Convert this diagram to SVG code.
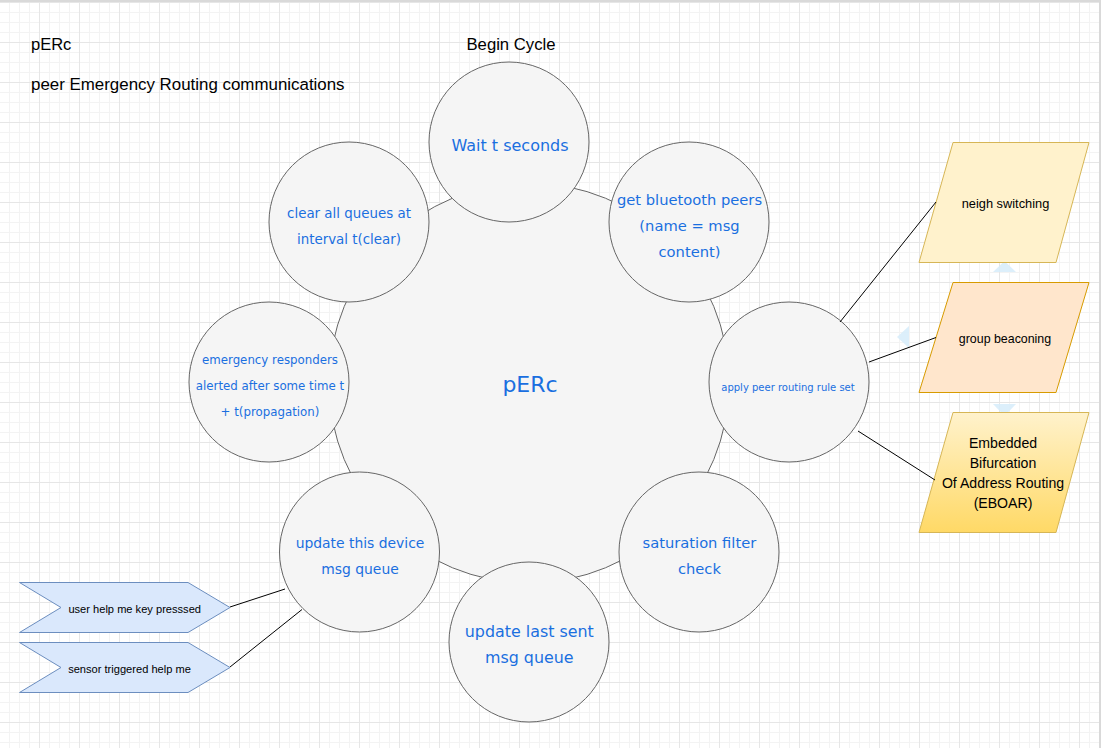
<svg xmlns="http://www.w3.org/2000/svg" width="1101" height="748" viewBox="0 0 1101 748">
<defs>
<pattern id="grid" patternUnits="userSpaceOnUse" x="-1" y="2" width="40" height="40">
<path d="M10.5 0V40M20.5 0V40M30.5 0V40M0 10.5H40M0 20.5H40M0 30.5H40" stroke="#f3f3f3" stroke-width="1" fill="none"/>
<path d="M0.5 0V40M0 0.5H40" stroke="#e6e6e6" stroke-width="1" fill="none"/>
</pattern>
<linearGradient id="gold" x1="0" y1="0" x2="0" y2="1">
<stop offset="0" stop-color="#fff2cc"/>
<stop offset="1" stop-color="#ffd966"/>
</linearGradient>
<style>
.c{fill:#f5f5f5;stroke:#666666;stroke-width:1}
.ct{font-family:"DejaVu Sans",Verdana,sans-serif;fill:#1a6fe0;text-anchor:middle}
.lt{font-family:"Liberation Sans",Arial,sans-serif;fill:#000000}
.lm{font-family:"Liberation Sans",Arial,sans-serif;fill:#000000;text-anchor:middle}
.e{stroke:#000000;stroke-width:1;fill:none}
.arr{fill:#dae8fc;stroke:#6c8ebf;stroke-width:1}
.hint{fill:#d6ecfa;opacity:0.85}
</style>
</defs>
<rect width="1101" height="748" fill="#ffffff"/>
<rect width="1101" height="748" fill="url(#grid)"/>
<rect x="0" y="0" width="1101" height="2" fill="#d9d9d9"/>
<rect x="1099" y="0" width="2" height="748" fill="#d9d9d9"/>

<g id="title">
<text class="lt" x="31" y="50" font-size="16.5">pERc</text>
<text class="lt" x="31" y="89.5" font-size="16.9">peer Emergency Routing communications</text>
</g>
<g id="begin-cycle">
<text class="lm" x="511" y="49.5" font-size="16.7">Begin Cycle</text>
</g>

<g id="perc-center">
<circle class="c" cx="529" cy="383" r="200"/>
<text class="ct" x="530" y="391.5" font-size="22">pERc</text>
</g>

<g id="wait">
<circle class="c" cx="509" cy="142" r="80"/>
<text class="ct" x="510" y="151" font-size="16">Wait t seconds</text>
</g>
<g id="clear-queues">
<circle class="c" cx="349" cy="222" r="80"/>
<text class="ct" x="349" font-size="13.4"><tspan x="349" y="217.5">clear all queues at</tspan><tspan x="349" y="243.5">interval t(clear)</tspan></text>
</g>
<g id="emergency">
<circle class="c" cx="269" cy="382" r="80"/>
<text class="ct" font-size="11.8"><tspan x="270" y="364">emergency responders</tspan><tspan x="270" y="390">alerted after some time t</tspan><tspan x="270" y="416">+ t(propagation)</tspan></text>
</g>
<g id="bluetooth">
<circle class="c" cx="689" cy="222" r="80"/>
<text class="ct" font-size="14.7"><tspan x="689.5" y="205">get bluetooth peers</tspan><tspan x="689.5" y="231">(name = msg</tspan><tspan x="689.5" y="257">content)</tspan></text>
</g>
<g id="apply-rules">
<circle class="c" cx="789" cy="382" r="80"/>
<text class="ct" x="788" y="391" font-size="10">apply peer routing rule set</text>
</g>
<g id="update-device">
<circle class="c" cx="359.5" cy="552" r="80"/>
<text class="ct" font-size="13.9"><tspan x="360" y="548.3">update this device</tspan><tspan x="360" y="574">msg queue</tspan></text>
</g>
<g id="update-last">
<circle class="c" cx="529" cy="642" r="80"/>
<text class="ct" font-size="15.9"><tspan x="529.3" y="637.3">update last sent</tspan><tspan x="529.3" y="663.3">msg queue</tspan></text>
</g>
<g id="saturation">
<circle class="c" cx="699" cy="552" r="80"/>
<text class="ct" font-size="14.7"><tspan x="699.4" y="548">saturation filter</tspan><tspan x="699.4" y="574">check</tspan></text>
</g>

<g id="hints">
<polygon class="hint" points="993,272 1016,272 1004.5,261"/>
<polygon class="hint" points="909,326 909,348 897,337"/>
</g>

<g id="neigh-switching">
<polygon points="953,142.5 1089,142.5 1056,262.5 919,262.5" fill="#fff2cc" stroke="#d6b656" stroke-width="1"/>
<text class="lm" x="1005.5" y="207.5" font-size="12.8">neigh switching</text>
</g>
<g id="group-beaconing">
<polygon points="953,282.5 1089,282.5 1056,392.5 919,392.5" fill="#ffe6cc" stroke="#d79b00" stroke-width="1"/>
<text class="lm" x="1005" y="342.5" font-size="12.4">group beaconing</text>
</g>
<g id="hint-down">
<polygon class="hint" points="993,404 1016,404 1004.5,416"/>
</g>
<g id="eboar">
<polygon points="953,412.5 1089,412.5 1056,532.5 919,532.5" fill="url(#gold)" stroke="#d6b656" stroke-width="1"/>
<text class="lm" font-size="14.1"><tspan x="1003" y="447.7">Embedded</tspan><tspan x="1003" y="467.7">Bifurcation</tspan><tspan x="1003" y="487.7">Of Address Routing</tspan><tspan x="1003" y="507.7">(EBOAR)</tspan></text>
</g>

<g id="user-key">
<polygon class="arr" points="19.5,582.5 188,582.5 230,607.5 188,632.5 19.5,632.5 61,607.5"/>
<text class="lm" x="134.7" y="612.7" font-size="11.1">user help me key presssed</text>
</g>
<g id="sensor">
<polygon class="arr" points="19.5,642.5 188,642.5 230,667.5 188,692.5 19.5,692.5 61,667.5"/>
<text class="lm" x="129.5" y="672.5" font-size="11.1">sensor triggered help me</text>
</g>

<g id="connectors">
<line class="e" x1="840" y1="322" x2="936" y2="202"/>
<line class="e" x1="869" y1="362" x2="936" y2="337.5"/>
<line class="e" x1="858" y1="431" x2="935" y2="480"/>
<line class="e" x1="230" y1="607" x2="285" y2="589"/>
<line class="e" x1="230" y1="667" x2="302" y2="609.5"/>
</g>
</svg>
